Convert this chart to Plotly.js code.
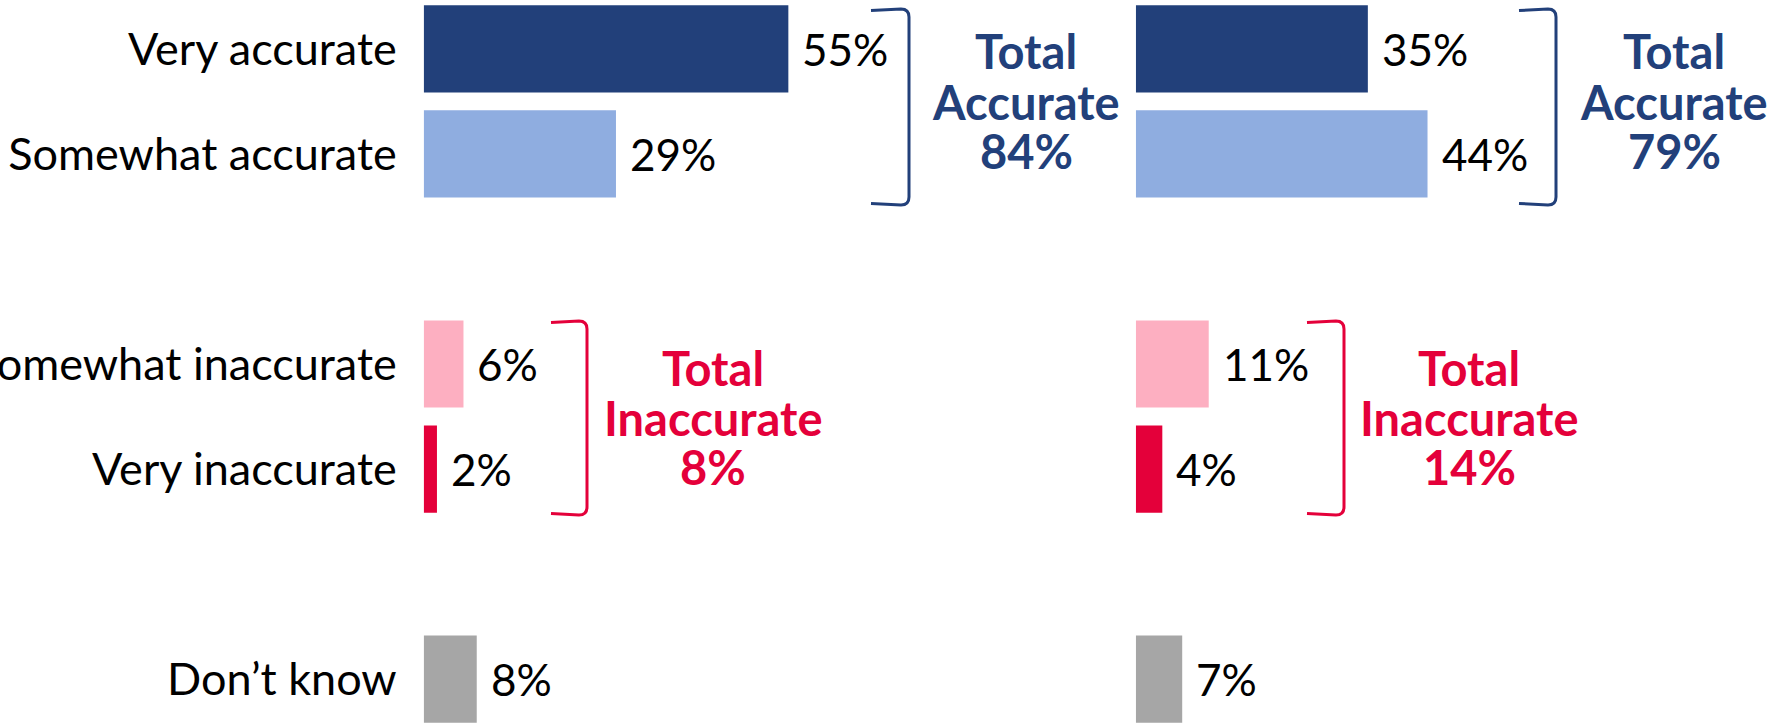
<!DOCTYPE html>
<html>
<head>
<meta charset="utf-8">
<script src="https://cdn.plot.ly/plotly-3.0.1.min.js"></script>
<style>html,body{margin:0;padding:0;background:#fff;overflow:hidden}#chart{width:1781px;height:724px}</style>
</head>
<body>
<div id="chart"></div>
<script>
// ---- data ----
const categories = ["Very accurate", "Somewhat accurate", "Somewhat inaccurate", "Very inaccurate", "Don’t know"];
const leftValues = [55, 29, 6, 2, 8];
const rightValues = [35, 44, 11, 4, 7];
const axisOrder = ["Very accurate", "Somewhat accurate", "gap1", "Somewhat inaccurate", "Very inaccurate", "gap2", "Don’t know"];
const totalAccurate = [84, 79];
const totalInaccurate = [8, 14];

// ---- styles ----
const W = 1781, H = 724;
const barColors = ["#22407A", "#8FADE0", "#FDAFC1", "#E4003A", "#A6A6A6"];
const blue = "#22407A", red = "#E4003A";
const FONT = "Lato, 'Open Sans', sans-serif";
const labelSize = 45, valueSize = 44, boldSize = 47;

const px = x => x / W;
const py = y => 1 - y / H;

const traces = [
  {type: "bar", orientation: "h", y: categories, x: leftValues, xaxis: "x", yaxis: "y",
   marker: {color: barColors}, hoverinfo: "skip", showlegend: false},
  {type: "bar", orientation: "h", y: categories, x: rightValues, xaxis: "x2", yaxis: "y",
   marker: {color: barColors}, hoverinfo: "skip", showlegend: false}
];

const annotations = [];
function valueLabels(vals, xref) {
  vals.forEach((v, i) => {
    annotations.push({x: v, y: categories[i], xref: xref, yref: "y", text: v + "%",
      showarrow: false, xanchor: "left", yanchor: "middle", xshift: 12,
      font: {family: FONT, size: valueSize, color: "#000"}});
  });
}
valueLabels(leftValues, "x");
valueLabels(rightValues, "x2");

function totalBlock(cx, ys, word, val, color) {
  const lines = ["Total", word, val + "%"];
  lines.forEach((t, i) => {
    annotations.push({x: px(cx), y: py(ys[i]), xref: "paper", yref: "paper", text: "<b>" + t + "</b>",
      showarrow: false, xanchor: "center", yanchor: "middle",
      font: {family: FONT, size: boldSize, color: color}});
  });
}
const accYs = [51, 102, 151];
const inaYs = [368, 418, 467];
totalBlock(1026, accYs, "Accurate", totalAccurate[0], blue);
totalBlock(1674, accYs, "Accurate", totalAccurate[1], blue);
totalBlock(713, inaYs, "Inaccurate", totalInaccurate[0], red);
totalBlock(1469, inaYs, "Inaccurate", totalInaccurate[1], red);

function bracket(x0, x1, y0, y1, color) {
  const r = 8;
  const p = (x, y) => px(x) + "," + py(y);
  return {type: "path", xref: "paper", yref: "paper",
    path: "M" + p(x0, y0 + 1.5) + " L" + p(x1 - r, y0) + " Q" + p(x1, y0) + " " + p(x1, y0 + r) +
          " L" + p(x1, y1 - r) + " Q" + p(x1, y1) + " " + p(x1 - r, y1) + " L" + p(x0, y1 - 1.5),
    line: {color: color, width: 3}};
}
const shapes = [
  bracket(871, 909, 9, 205, blue),
  bracket(1519, 1556, 9, 205, blue),
  bracket(551, 587, 321, 515, red),
  bracket(1307, 1344, 321, 515, red)
];

const layout = {
  width: W, height: H,
  margin: {l: 0, r: 0, t: 0, b: 0, pad: 0},
  paper_bgcolor: "#fff", plot_bgcolor: "rgba(0,0,0,0)",
  bargap: 0.17,
  showlegend: false,
  xaxis: {domain: [423.7 / W, (423.7 + 530.4) / W], range: [0, 80], visible: false, fixedrange: true},
  xaxis2: {domain: [1135.8 / W, (1135.8 + 530.4) / W], range: [0, 80], visible: false, fixedrange: true, anchor: "y"},
  yaxis: {type: "category", categoryorder: "array", categoryarray: axisOrder,
    range: [6.4268, -0.4645], tickvals: categories, ticktext: categories,
    showgrid: false, zeroline: false, showline: false, ticks: "",
    ticklabelstandoff: 26,
    tickfont: {family: FONT, size: labelSize, color: "#000"}, fixedrange: true},
  annotations: annotations,
  shapes: shapes
};

Plotly.newPlot("chart", traces, layout, {displayModeBar: false, staticPlot: true});
</script>
</body>
</html>
